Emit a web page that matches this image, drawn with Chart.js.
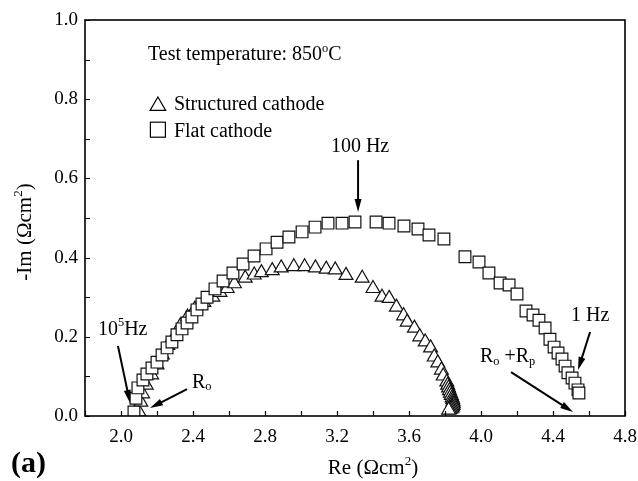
<!DOCTYPE html>
<html>
<head>
<meta charset="utf-8">
<title>Impedance spectra at 850 C</title>
<script src="https://cdn.jsdelivr.net/npm/chart.js@4.4.1/dist/chart.umd.min.js"></script>
<style>
  html, body { margin: 0; padding: 0; background: #fff; }
</style>
</head>
<body>
<canvas id="chart" width="638" height="481"></canvas>
<script>
    const seriesNames = ["Structured cathode", "Flat cathode"];

    // structured cathode (triangles)
    const structuredRe = [2.10, 2.11, 2.12, 2.14, 2.17, 2.20, 2.23, 2.26, 2.30, 2.33, 2.37, 2.41, 2.46,
      2.51, 2.55, 2.59, 2.63, 2.69, 2.74, 2.78, 2.84, 2.89, 2.96, 3.02, 3.08, 3.14, 3.19, 3.25, 3.34,
      3.40, 3.45, 3.49, 3.53, 3.57, 3.59, 3.63, 3.66, 3.69, 3.72, 3.74, 3.76, 3.78, 3.79, 3.81, 3.815,
      3.82, 3.825, 3.83, 3.835, 3.84, 3.843, 3.845, 3.846, 3.845, 3.842, 3.838, 3.832, 3.826, 3.82];
    const structuredIm = [0.010, 0.035, 0.056, 0.078, 0.104, 0.129, 0.154, 0.178, 0.203, 0.228, 0.250,
      0.270, 0.287, 0.300, 0.312, 0.322, 0.334, 0.348, 0.356, 0.362, 0.367, 0.374, 0.377, 0.377, 0.374,
      0.371, 0.369, 0.355, 0.348, 0.322, 0.300, 0.297, 0.275, 0.253, 0.237, 0.222, 0.200, 0.187, 0.172,
      0.149, 0.134, 0.116, 0.101, 0.086, 0.078, 0.071, 0.064, 0.058, 0.052, 0.046, 0.041, 0.036, 0.031,
      0.027, 0.023, 0.020, 0.018, 0.016, 0.015];

    // flat cathode (squares)
    const flatRe = [2.072, 2.083, 2.094, 2.122, 2.144, 2.172, 2.200, 2.228, 2.256, 2.283, 2.311, 2.339,
      2.367, 2.394, 2.422, 2.450, 2.478, 2.522, 2.567, 2.622, 2.678, 2.739, 2.806, 2.867, 2.933, 3.006,
      3.078, 3.150, 3.228, 3.300, 3.417, 3.489, 3.572, 3.650, 3.711, 3.794, 3.911, 3.989, 4.044, 4.106,
      4.156, 4.200, 4.250, 4.289, 4.322, 4.356, 4.383, 4.406, 4.428, 4.450, 4.467, 4.483, 4.506, 4.522,
      4.539, 4.544];
    const flatIm = [0.010, 0.045, 0.071, 0.091, 0.106, 0.121, 0.136, 0.154, 0.172, 0.187, 0.205, 0.220,
      0.235, 0.250, 0.268, 0.283, 0.300, 0.321, 0.341, 0.361, 0.384, 0.404, 0.422, 0.439, 0.452, 0.465,
      0.477, 0.487, 0.487, 0.490, 0.490, 0.487, 0.480, 0.472, 0.457, 0.447, 0.402, 0.389, 0.361, 0.336,
      0.331, 0.308, 0.265, 0.255, 0.242, 0.222, 0.194, 0.174, 0.159, 0.144, 0.126, 0.109, 0.096, 0.083,
      0.066, 0.058];

    const xTickLabels = ["2.0", "2.4", "2.8", "3.2", "3.6", "4.0", "4.4", "4.8"];
    const yTickLabels = ["0.0", "0.2", "0.4", "0.6", "0.8", "1.0"];

    const serif = "Liberation Serif";

    // text notes, placed in data units: [text, sup/sub flag]
    const notes = [
      { runs: [["Test temperature: 850"], ["o", "sup"], ["C"]], at: [2.15, 0.899] },
      { runs: [["100 Hz"]], at: [3.328, 0.667], center: true, arrow: [[3.317, 0.646], [3.317, 0.515]] },
      { runs: [["10"], ["5", "sup"], ["Hz"]], at: [1.872, 0.205], arrow: [[1.983, 0.177], [2.05, 0.033]] },
      { runs: [["R"], ["o", "sub"]], at: [2.394, 0.071], arrow: [[2.367, 0.068], [2.161, 0.02]] },
      { runs: [["1 Hz"]], at: [4.5, 0.24], arrow: [[4.606, 0.212], [4.539, 0.116]] },
      { runs: [["R"], ["o", "sub"], [" +R"], ["p", "sub"]], at: [3.994, 0.136], arrow: [[4.167, 0.111], [4.511, 0.01]] }
    ];

    function toPoints(xs, ys) {
      return xs.map((v, i) => ({ x: v, y: ys[i] }));
    }

    function drawRuns(ctx, x, y, runs, size, measureOnly) {
      let w = 0;
      runs.forEach(([t, kind]) => {
        const s = kind ? size * 0.62 : size;
        ctx.font = s + "px '" + serif + "'";
        const dy = kind === "sup" ? -size * 0.42 : kind === "sub" ? size * 0.12 : 0;
        if (!measureOnly) ctx.fillText(t, x + w, y + dy);
        w += ctx.measureText(t).width;
      });
      return w;
    }

    function arrow(ctx, x1, y1, x2, y2) {
      const ang = Math.atan2(y2 - y1, x2 - x1);
      const len = 13, half = 3.5;
      ctx.lineWidth = 2;
      ctx.beginPath();
      ctx.moveTo(x1, y1);
      ctx.lineTo(x2 - Math.cos(ang) * len * 0.8, y2 - Math.sin(ang) * len * 0.8);
      ctx.stroke();
      ctx.beginPath();
      ctx.moveTo(x2, y2);
      ctx.lineTo(x2 - Math.cos(ang) * len - Math.sin(ang) * half, y2 - Math.sin(ang) * len + Math.cos(ang) * half);
      ctx.lineTo(x2 - Math.cos(ang) * len + Math.sin(ang) * half, y2 - Math.sin(ang) * len - Math.cos(ang) * half);
      ctx.closePath();
      ctx.fill();
    }

    const frameAndNotes = {
      id: "frameAndNotes",
      afterDatasetsDraw(chart) {
        const { ctx, chartArea: a } = chart;
        const xs = chart.scales.x, ys = chart.scales.y;
        ctx.save();
        ctx.strokeStyle = "#000";
        ctx.fillStyle = "#000";

        // inward tick marks
        ctx.lineWidth = 1.2;
        ctx.beginPath();
        xs.ticks.forEach((t) => {
          const px = Math.round(xs.getPixelForValue(t.value)) + 0.5;
          ctx.moveTo(px, a.bottom);
          ctx.lineTo(px, a.bottom - 5);
        });
        ys.ticks.forEach((t) => {
          const py = Math.round(ys.getPixelForValue(t.value)) + 0.5;
          ctx.moveTo(a.left, py);
          ctx.lineTo(a.left + 5, py);
        });
        ctx.stroke();

        // frame
        ctx.lineWidth = 1.6;
        ctx.strokeRect(a.left, a.top, a.right - a.left, a.bottom - a.top);

        // notes and arrows
        ctx.textBaseline = "alphabetic";
        notes.forEach((n) => {
          let x = xs.getPixelForValue(n.at[0]);
          const y = ys.getPixelForValue(n.at[1]);
          if (n.center) x -= drawRuns(ctx, 0, 0, n.runs, 20, true) / 2;
          drawRuns(ctx, x, y, n.runs, 20);
          if (n.arrow) {
            const [p, q] = n.arrow;
            arrow(ctx, xs.getPixelForValue(p[0]), ys.getPixelForValue(p[1]),
              xs.getPixelForValue(q[0]), ys.getPixelForValue(q[1]));
          }
        });

        // legend inside the plot
        const lx = xs.getPixelForValue(2.205);
        const tx = xs.getPixelForValue(2.294);
        ctx.lineWidth = 1.2;
        ctx.fillStyle = "#fff";
        let cy = ys.getPixelForValue(0.783);
        ctx.beginPath();
        ctx.moveTo(lx, cy - 9);
        ctx.lineTo(lx + 7.8, cy + 4.5);
        ctx.lineTo(lx - 7.8, cy + 4.5);
        ctx.closePath();
        ctx.fill();
        ctx.stroke();
        cy = ys.getPixelForValue(0.723);
        ctx.fillRect(lx - 7.5, cy - 7.5, 15, 15);
        ctx.strokeRect(lx - 7.5, cy - 7.5, 15, 15);
        ctx.fillStyle = "#000";
        drawRuns(ctx, tx, ys.getPixelForValue(0.773), [[seriesNames[0]]], 20);
        drawRuns(ctx, tx, ys.getPixelForValue(0.705), [[seriesNames[1]]], 20);

        // axis titles
        const xt = [["Re (Ωcm"], ["2", "sup"], [")"]];
        const xw = drawRuns(ctx, 0, 0, xt, 21, true);
        drawRuns(ctx, 373 - xw / 2, 474, xt, 21);

        const yt = [["-Im (Ωcm"], ["2", "sup"], [")"]];
        const yw = drawRuns(ctx, 0, 0, yt, 21, true);
        ctx.save();
        ctx.translate(31, 232);
        ctx.rotate(-Math.PI / 2);
        drawRuns(ctx, -yw / 2, 0, yt, 21);
        ctx.restore();

        ctx.font = "bold 30px '" + serif + "'";
        ctx.fillText("(a)", 11, 472);
        ctx.restore();
      }
    };

    new Chart(document.getElementById("chart"), {
      type: "scatter",
      data: {
        datasets: [
          {
            label: seriesNames[0],
            data: toPoints(structuredRe, structuredIm),
            pointStyle: "triangle",
            pointRadius: 8,
            borderWidth: 1.2,
            borderColor: "#111",
            backgroundColor: "#fff",
            showLine: false,
            order: 2,
            clip: 0
          },
          {
            label: seriesNames[1],
            data: toPoints(flatRe, flatIm),
            pointStyle: "rect",
            pointRadius: 8.3,
            borderWidth: 1.2,
            borderColor: "#111",
            backgroundColor: "#fff",
            showLine: false,
            order: 1,
            clip: 0
          }
        ]
      },
      options: {
        responsive: false,
        animation: false,
        events: [],
        layout: { padding: { left: 0, top: 20, right: 13, bottom: 0 } },
        plugins: { legend: { display: false }, tooltip: { enabled: false } },
        scales: {
          x: {
            type: "linear",
            min: 1.8,
            max: 4.8,
            afterFit: (s) => { s.height = 65; s.paddingLeft = 0; s.paddingRight = 0; },
            grid: { display: false, drawTicks: false },
            border: { display: false },
            ticks: {
              stepSize: 0.2,
              padding: 10,
              autoSkip: false,
              maxRotation: 0,
              color: "#000",
              font: { family: serif, size: 19 },
              callback: (v) => (xTickLabels.includes(v.toFixed(1)) ? v.toFixed(1) : "")
            }
          },
          y: {
            type: "linear",
            min: 0,
            max: 1,
            afterFit: (s) => { s.width = 85; s.paddingTop = 0; s.paddingBottom = 0; },
            grid: { display: false, drawTicks: false },
            border: { display: false },
            ticks: {
              stepSize: 0.1,
              padding: 7,
              autoSkip: false,
              color: "#000",
              font: { family: serif, size: 19 },
              callback: (v) => (yTickLabels.includes(v.toFixed(1)) ? v.toFixed(1) : "")
            }
          }
        }
      },
      plugins: [frameAndNotes]
    });
</script>
</body>
</html>
